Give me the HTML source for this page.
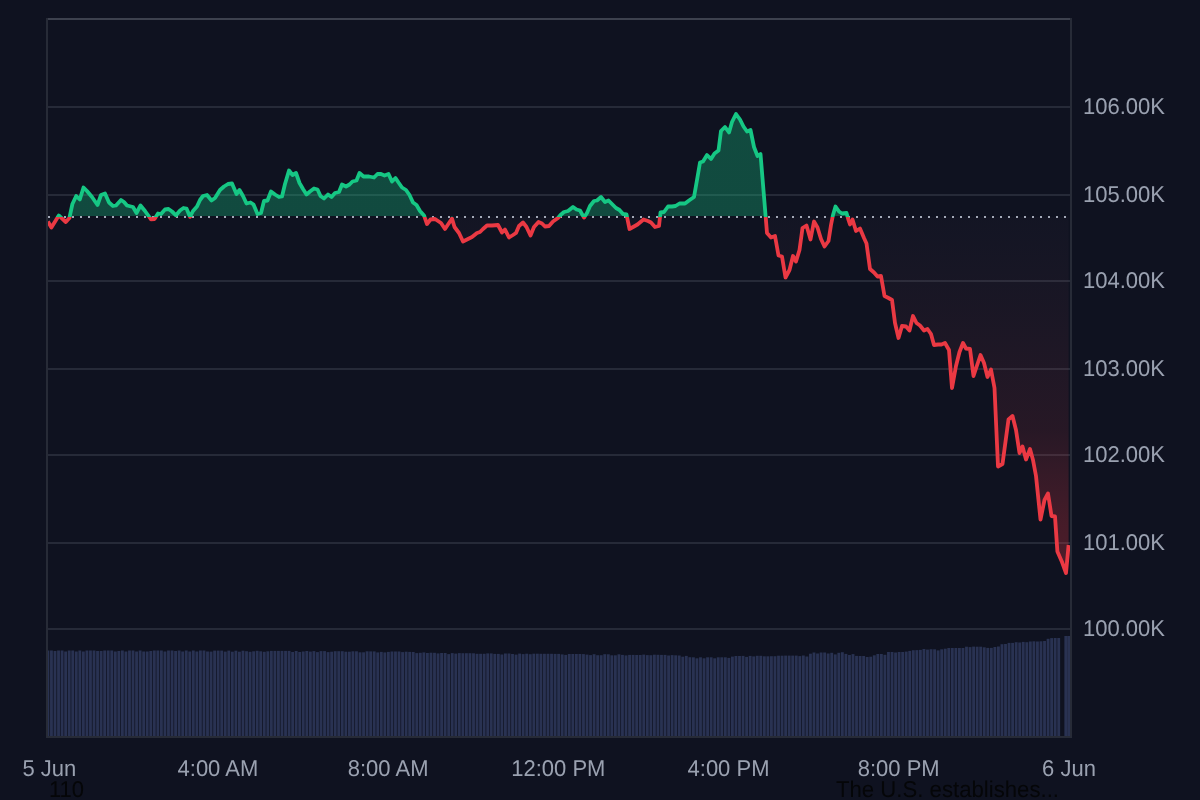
<!DOCTYPE html>
<html><head><meta charset="utf-8"><title>BTC chart</title>
<style>
html,body{margin:0;padding:0;background:#0f1220;width:1200px;height:800px;overflow:hidden}
svg{display:block;position:absolute;left:0;top:0;font-family:"Liberation Sans",Arial,sans-serif}
.ov{will-change:transform;text-rendering:geometricPrecision}
</style></head><body>
<svg width="1200" height="800" viewBox="0 0 1200 800">
<defs>
<clipPath id="pane"><rect x="48" y="20" width="1022" height="716"/></clipPath>
<clipPath id="above"><rect x="48" y="20" width="1022" height="196.0"/></clipPath>
<clipPath id="below"><rect x="48" y="217.0" width="1022" height="519.0"/></clipPath>
<clipPath id="aboveL"><rect x="40" y="0" width="1040" height="217.0"/></clipPath>
<clipPath id="belowL"><rect x="40" y="217.0" width="1040" height="600"/></clipPath>
<linearGradient id="gfill" x1="0" y1="20" x2="0" y2="216.0" gradientUnits="userSpaceOnUse">
<stop offset="0" stop-color="#16c784" stop-opacity="0.32"/><stop offset="1" stop-color="#16c784" stop-opacity="0.31"/></linearGradient>
<linearGradient id="rfill" x1="0" y1="216.0" x2="0" y2="736" gradientUnits="userSpaceOnUse">
<stop offset="0" stop-color="rgb(160,120,150)" stop-opacity="0.03"/>
<stop offset="0.181" stop-color="rgb(200,90,110)" stop-opacity="0.06"/>
<stop offset="0.412" stop-color="rgb(234,70,80)" stop-opacity="0.11"/>
<stop offset="0.594" stop-color="rgb(234,57,67)" stop-opacity="0.25"/>
<stop offset="1" stop-color="rgb(234,57,67)" stop-opacity="0.40"/></linearGradient>
</defs>
<rect width="1200" height="800" fill="#0f1220"/>
<g fill="#262a38"><rect x="48" y="106" width="1022" height="2"/><rect x="48" y="194" width="1022" height="2"/><rect x="48" y="280" width="1022" height="2"/><rect x="48" y="368" width="1022" height="2"/><rect x="48" y="454" width="1022" height="2"/><rect x="48" y="542" width="1022" height="2"/><rect x="48" y="628" width="1022" height="2"/></g>
<g fill="#293252" clip-path="url(#pane)">
<rect x="48.00" y="650.5" width="1.32" height="85.5"/>
<rect x="50.02" y="650.5" width="2.85" height="85.5"/>
<rect x="53.57" y="651.0" width="2.85" height="85.0"/>
<rect x="57.12" y="650.5" width="2.85" height="85.5"/>
<rect x="60.66" y="650.5" width="2.85" height="85.5"/>
<rect x="64.21" y="651.5" width="2.85" height="84.5"/>
<rect x="67.76" y="650.5" width="2.85" height="85.5"/>
<rect x="71.30" y="650.5" width="2.85" height="85.5"/>
<rect x="74.85" y="651.5" width="2.85" height="84.5"/>
<rect x="78.40" y="650.5" width="2.85" height="85.5"/>
<rect x="81.94" y="651.5" width="2.85" height="84.5"/>
<rect x="85.49" y="650.5" width="2.85" height="85.5"/>
<rect x="89.04" y="650.5" width="2.85" height="85.5"/>
<rect x="92.58" y="650.5" width="2.85" height="85.5"/>
<rect x="96.13" y="651.0" width="2.85" height="85.0"/>
<rect x="99.68" y="651.0" width="2.85" height="85.0"/>
<rect x="103.22" y="650.5" width="2.85" height="85.5"/>
<rect x="106.77" y="650.5" width="2.85" height="85.5"/>
<rect x="110.32" y="650.5" width="2.85" height="85.5"/>
<rect x="113.86" y="651.5" width="2.85" height="84.5"/>
<rect x="117.41" y="651.0" width="2.85" height="85.0"/>
<rect x="120.96" y="650.5" width="2.85" height="85.5"/>
<rect x="124.50" y="651.5" width="2.85" height="84.5"/>
<rect x="128.05" y="650.5" width="2.85" height="85.5"/>
<rect x="131.60" y="650.5" width="2.85" height="85.5"/>
<rect x="135.14" y="651.5" width="2.85" height="84.5"/>
<rect x="138.69" y="650.5" width="2.85" height="85.5"/>
<rect x="142.24" y="651.5" width="2.85" height="84.5"/>
<rect x="145.78" y="651.5" width="2.85" height="84.5"/>
<rect x="149.33" y="651.0" width="2.85" height="85.0"/>
<rect x="152.88" y="650.5" width="2.85" height="85.5"/>
<rect x="156.42" y="650.5" width="2.85" height="85.5"/>
<rect x="159.97" y="650.5" width="2.85" height="85.5"/>
<rect x="163.52" y="651.5" width="2.85" height="84.5"/>
<rect x="167.06" y="650.5" width="2.85" height="85.5"/>
<rect x="170.61" y="650.5" width="2.85" height="85.5"/>
<rect x="174.16" y="651.0" width="2.85" height="85.0"/>
<rect x="177.70" y="650.5" width="2.85" height="85.5"/>
<rect x="181.25" y="651.5" width="2.85" height="84.5"/>
<rect x="184.80" y="650.5" width="2.85" height="85.5"/>
<rect x="188.34" y="651.5" width="2.85" height="84.5"/>
<rect x="191.89" y="650.5" width="2.85" height="85.5"/>
<rect x="195.44" y="651.5" width="2.85" height="84.5"/>
<rect x="198.98" y="650.5" width="2.85" height="85.5"/>
<rect x="202.53" y="650.5" width="2.85" height="85.5"/>
<rect x="206.08" y="651.5" width="2.85" height="84.5"/>
<rect x="209.62" y="651.6" width="2.85" height="84.4"/>
<rect x="213.17" y="650.6" width="2.85" height="85.4"/>
<rect x="216.72" y="650.6" width="2.85" height="85.4"/>
<rect x="220.26" y="650.6" width="2.85" height="85.4"/>
<rect x="223.81" y="651.6" width="2.85" height="84.4"/>
<rect x="227.36" y="650.6" width="2.85" height="85.4"/>
<rect x="230.91" y="651.7" width="2.85" height="84.3"/>
<rect x="234.45" y="650.7" width="2.85" height="85.3"/>
<rect x="238.00" y="651.7" width="2.85" height="84.3"/>
<rect x="241.55" y="650.7" width="2.85" height="85.3"/>
<rect x="245.09" y="651.2" width="2.85" height="84.8"/>
<rect x="248.64" y="651.8" width="2.85" height="84.2"/>
<rect x="252.19" y="651.3" width="2.85" height="84.7"/>
<rect x="255.73" y="650.8" width="2.85" height="85.2"/>
<rect x="259.28" y="651.3" width="2.85" height="84.7"/>
<rect x="262.83" y="651.8" width="2.85" height="84.2"/>
<rect x="266.37" y="651.3" width="2.85" height="84.7"/>
<rect x="269.92" y="650.9" width="2.85" height="85.1"/>
<rect x="273.47" y="650.9" width="2.85" height="85.1"/>
<rect x="277.01" y="650.9" width="2.85" height="85.1"/>
<rect x="280.56" y="650.9" width="2.85" height="85.1"/>
<rect x="284.11" y="650.9" width="2.85" height="85.1"/>
<rect x="287.65" y="650.9" width="2.85" height="85.1"/>
<rect x="291.20" y="652.0" width="2.85" height="84.0"/>
<rect x="294.75" y="651.0" width="2.85" height="85.0"/>
<rect x="298.29" y="652.0" width="2.85" height="84.0"/>
<rect x="301.84" y="651.5" width="2.85" height="84.5"/>
<rect x="305.39" y="651.0" width="2.85" height="85.0"/>
<rect x="308.93" y="651.6" width="2.85" height="84.4"/>
<rect x="312.48" y="651.1" width="2.85" height="84.9"/>
<rect x="316.03" y="652.1" width="2.85" height="83.9"/>
<rect x="319.57" y="651.1" width="2.85" height="84.9"/>
<rect x="323.12" y="651.1" width="2.85" height="84.9"/>
<rect x="326.67" y="652.1" width="2.85" height="83.9"/>
<rect x="330.21" y="651.7" width="2.85" height="84.3"/>
<rect x="333.76" y="651.2" width="2.85" height="84.8"/>
<rect x="337.31" y="651.2" width="2.85" height="84.8"/>
<rect x="340.85" y="651.2" width="2.85" height="84.8"/>
<rect x="344.40" y="651.7" width="2.85" height="84.3"/>
<rect x="347.95" y="651.7" width="2.85" height="84.3"/>
<rect x="351.49" y="651.3" width="2.85" height="84.7"/>
<rect x="355.04" y="651.3" width="2.85" height="84.7"/>
<rect x="358.59" y="652.3" width="2.85" height="83.7"/>
<rect x="362.13" y="652.3" width="2.85" height="83.7"/>
<rect x="365.68" y="651.3" width="2.85" height="84.7"/>
<rect x="369.23" y="651.4" width="2.85" height="84.6"/>
<rect x="372.77" y="651.4" width="2.85" height="84.6"/>
<rect x="376.32" y="652.4" width="2.85" height="83.6"/>
<rect x="379.87" y="651.9" width="2.85" height="84.1"/>
<rect x="383.41" y="652.4" width="2.85" height="83.6"/>
<rect x="386.96" y="651.9" width="2.85" height="84.1"/>
<rect x="390.51" y="651.5" width="2.85" height="84.5"/>
<rect x="394.05" y="651.5" width="2.85" height="84.5"/>
<rect x="397.60" y="651.5" width="2.85" height="84.5"/>
<rect x="401.15" y="652.1" width="2.85" height="83.9"/>
<rect x="404.69" y="651.7" width="2.85" height="84.3"/>
<rect x="408.24" y="651.9" width="2.85" height="84.1"/>
<rect x="411.79" y="652.0" width="2.85" height="84.0"/>
<rect x="415.33" y="653.1" width="2.85" height="82.9"/>
<rect x="418.88" y="652.8" width="2.85" height="83.2"/>
<rect x="422.43" y="652.4" width="2.85" height="83.6"/>
<rect x="425.97" y="653.0" width="2.85" height="83.0"/>
<rect x="429.52" y="652.7" width="2.85" height="83.3"/>
<rect x="433.07" y="652.8" width="2.85" height="83.2"/>
<rect x="436.61" y="653.4" width="2.85" height="82.6"/>
<rect x="440.16" y="653.0" width="2.85" height="83.0"/>
<rect x="443.71" y="653.0" width="2.85" height="83.0"/>
<rect x="447.25" y="654.1" width="2.85" height="81.9"/>
<rect x="450.80" y="653.1" width="2.85" height="82.9"/>
<rect x="454.35" y="653.6" width="2.85" height="82.4"/>
<rect x="457.89" y="653.1" width="2.85" height="82.9"/>
<rect x="461.44" y="653.2" width="2.85" height="82.8"/>
<rect x="464.99" y="653.2" width="2.85" height="82.8"/>
<rect x="468.53" y="653.2" width="2.85" height="82.8"/>
<rect x="472.08" y="653.3" width="2.85" height="82.7"/>
<rect x="475.63" y="653.8" width="2.85" height="82.2"/>
<rect x="479.17" y="653.8" width="2.85" height="82.2"/>
<rect x="482.72" y="653.8" width="2.85" height="82.2"/>
<rect x="486.27" y="653.4" width="2.85" height="82.6"/>
<rect x="489.81" y="653.4" width="2.85" height="82.6"/>
<rect x="493.36" y="653.9" width="2.85" height="82.1"/>
<rect x="496.91" y="653.9" width="2.85" height="82.1"/>
<rect x="500.45" y="654.5" width="2.85" height="81.5"/>
<rect x="504.00" y="653.5" width="2.85" height="82.5"/>
<rect x="507.55" y="653.5" width="2.85" height="82.5"/>
<rect x="511.09" y="654.0" width="2.85" height="82.0"/>
<rect x="514.64" y="654.6" width="2.85" height="81.4"/>
<rect x="518.19" y="653.6" width="2.85" height="82.4"/>
<rect x="521.73" y="654.1" width="2.85" height="81.9"/>
<rect x="525.28" y="653.7" width="2.85" height="82.3"/>
<rect x="528.83" y="654.2" width="2.85" height="81.8"/>
<rect x="532.37" y="653.7" width="2.85" height="82.3"/>
<rect x="535.92" y="653.7" width="2.85" height="82.3"/>
<rect x="539.47" y="653.8" width="2.85" height="82.2"/>
<rect x="543.01" y="653.8" width="2.85" height="82.2"/>
<rect x="546.56" y="653.8" width="2.85" height="82.2"/>
<rect x="550.11" y="653.8" width="2.85" height="82.2"/>
<rect x="553.65" y="653.9" width="2.85" height="82.1"/>
<rect x="557.20" y="653.9" width="2.85" height="82.1"/>
<rect x="560.75" y="654.4" width="2.85" height="81.6"/>
<rect x="564.29" y="654.9" width="2.85" height="81.1"/>
<rect x="567.84" y="654.0" width="2.85" height="82.0"/>
<rect x="571.39" y="654.0" width="2.85" height="82.0"/>
<rect x="574.93" y="654.0" width="2.85" height="82.0"/>
<rect x="578.48" y="654.0" width="2.85" height="82.0"/>
<rect x="582.03" y="654.1" width="2.85" height="81.9"/>
<rect x="585.58" y="654.6" width="2.85" height="81.4"/>
<rect x="589.12" y="655.1" width="2.85" height="80.9"/>
<rect x="592.67" y="654.2" width="2.85" height="81.8"/>
<rect x="596.22" y="655.2" width="2.85" height="80.8"/>
<rect x="599.76" y="655.2" width="2.85" height="80.8"/>
<rect x="603.31" y="654.2" width="2.85" height="81.8"/>
<rect x="606.86" y="654.3" width="2.85" height="81.7"/>
<rect x="610.40" y="655.3" width="2.85" height="80.7"/>
<rect x="613.95" y="655.3" width="2.85" height="80.7"/>
<rect x="617.50" y="654.3" width="2.85" height="81.7"/>
<rect x="621.04" y="654.9" width="2.85" height="81.1"/>
<rect x="624.59" y="655.4" width="2.85" height="80.6"/>
<rect x="628.14" y="654.9" width="2.85" height="81.1"/>
<rect x="631.68" y="654.9" width="2.85" height="81.1"/>
<rect x="635.23" y="655.0" width="2.85" height="81.0"/>
<rect x="638.78" y="655.0" width="2.85" height="81.0"/>
<rect x="642.32" y="654.6" width="2.85" height="81.4"/>
<rect x="645.87" y="655.1" width="2.85" height="80.9"/>
<rect x="649.42" y="655.2" width="2.85" height="80.8"/>
<rect x="652.96" y="654.7" width="2.85" height="81.3"/>
<rect x="656.51" y="654.8" width="2.85" height="81.2"/>
<rect x="660.06" y="654.9" width="2.85" height="81.1"/>
<rect x="663.60" y="654.9" width="2.85" height="81.1"/>
<rect x="667.15" y="655.5" width="2.85" height="80.5"/>
<rect x="670.70" y="655.1" width="2.85" height="80.9"/>
<rect x="674.24" y="655.3" width="2.85" height="80.7"/>
<rect x="677.79" y="655.5" width="2.85" height="80.5"/>
<rect x="681.34" y="656.7" width="2.85" height="79.3"/>
<rect x="684.88" y="655.9" width="2.85" height="80.1"/>
<rect x="688.43" y="657.2" width="2.85" height="78.8"/>
<rect x="691.98" y="657.3" width="2.85" height="78.7"/>
<rect x="695.52" y="658.3" width="2.85" height="77.7"/>
<rect x="699.07" y="657.3" width="2.85" height="78.7"/>
<rect x="702.62" y="658.3" width="2.85" height="77.7"/>
<rect x="706.16" y="657.3" width="2.85" height="78.7"/>
<rect x="709.71" y="657.3" width="2.85" height="78.7"/>
<rect x="713.26" y="658.3" width="2.85" height="77.7"/>
<rect x="716.80" y="657.3" width="2.85" height="78.7"/>
<rect x="720.35" y="657.3" width="2.85" height="78.7"/>
<rect x="723.90" y="657.3" width="2.85" height="78.7"/>
<rect x="727.44" y="657.9" width="2.85" height="78.1"/>
<rect x="730.99" y="656.6" width="2.85" height="79.4"/>
<rect x="734.54" y="656.0" width="2.85" height="80.0"/>
<rect x="738.08" y="656.0" width="2.85" height="80.0"/>
<rect x="741.63" y="655.9" width="2.85" height="80.1"/>
<rect x="745.18" y="656.9" width="2.85" height="79.1"/>
<rect x="748.72" y="655.9" width="2.85" height="80.1"/>
<rect x="752.27" y="656.4" width="2.85" height="79.6"/>
<rect x="755.82" y="655.8" width="2.85" height="80.2"/>
<rect x="759.36" y="655.8" width="2.85" height="80.2"/>
<rect x="762.91" y="656.3" width="2.85" height="79.7"/>
<rect x="766.46" y="656.3" width="2.85" height="79.7"/>
<rect x="770.00" y="656.2" width="2.85" height="79.8"/>
<rect x="773.55" y="656.2" width="2.85" height="79.8"/>
<rect x="777.10" y="655.7" width="2.85" height="80.3"/>
<rect x="780.64" y="655.7" width="2.85" height="80.3"/>
<rect x="784.19" y="655.6" width="2.85" height="80.4"/>
<rect x="787.74" y="655.6" width="2.85" height="80.4"/>
<rect x="791.28" y="655.6" width="2.85" height="80.4"/>
<rect x="794.83" y="655.6" width="2.85" height="80.4"/>
<rect x="798.38" y="656.1" width="2.85" height="79.9"/>
<rect x="801.92" y="655.5" width="2.85" height="80.5"/>
<rect x="805.47" y="656.5" width="2.85" height="79.5"/>
<rect x="809.02" y="653.7" width="2.85" height="82.3"/>
<rect x="812.56" y="652.5" width="2.85" height="83.5"/>
<rect x="816.11" y="653.5" width="2.85" height="82.5"/>
<rect x="819.66" y="652.5" width="2.85" height="83.5"/>
<rect x="823.20" y="652.5" width="2.85" height="83.5"/>
<rect x="826.75" y="653.5" width="2.85" height="82.5"/>
<rect x="830.30" y="652.8" width="2.85" height="83.2"/>
<rect x="833.84" y="654.4" width="2.85" height="81.6"/>
<rect x="837.39" y="652.8" width="2.85" height="83.2"/>
<rect x="840.94" y="652.2" width="2.85" height="83.8"/>
<rect x="844.48" y="653.9" width="2.85" height="82.1"/>
<rect x="848.03" y="655.0" width="2.85" height="81.0"/>
<rect x="851.58" y="654.1" width="2.85" height="81.9"/>
<rect x="855.12" y="655.9" width="2.85" height="80.1"/>
<rect x="858.67" y="656.0" width="2.85" height="80.0"/>
<rect x="862.22" y="656.0" width="2.85" height="80.0"/>
<rect x="865.76" y="657.0" width="2.85" height="79.0"/>
<rect x="869.31" y="656.7" width="2.85" height="79.3"/>
<rect x="872.86" y="655.3" width="2.85" height="80.7"/>
<rect x="876.40" y="654.0" width="2.85" height="82.0"/>
<rect x="879.95" y="654.0" width="2.85" height="82.0"/>
<rect x="883.50" y="654.8" width="2.85" height="81.2"/>
<rect x="887.04" y="652.0" width="2.85" height="84.0"/>
<rect x="890.59" y="652.0" width="2.85" height="84.0"/>
<rect x="894.14" y="652.5" width="2.85" height="83.5"/>
<rect x="897.68" y="652.0" width="2.85" height="84.0"/>
<rect x="901.23" y="652.0" width="2.85" height="84.0"/>
<rect x="904.78" y="651.6" width="2.85" height="84.4"/>
<rect x="908.32" y="650.9" width="2.85" height="85.1"/>
<rect x="911.87" y="650.2" width="2.85" height="85.8"/>
<rect x="915.42" y="650.1" width="2.85" height="85.9"/>
<rect x="918.96" y="649.9" width="2.85" height="86.1"/>
<rect x="922.51" y="649.0" width="2.85" height="87.0"/>
<rect x="926.06" y="649.6" width="2.85" height="86.4"/>
<rect x="929.60" y="649.2" width="2.85" height="86.8"/>
<rect x="933.15" y="649.3" width="2.85" height="86.7"/>
<rect x="936.70" y="650.4" width="2.85" height="85.6"/>
<rect x="940.25" y="649.3" width="2.85" height="86.7"/>
<rect x="943.79" y="648.7" width="2.85" height="87.3"/>
<rect x="947.34" y="648.0" width="2.85" height="88.0"/>
<rect x="950.89" y="648.0" width="2.85" height="88.0"/>
<rect x="954.43" y="648.0" width="2.85" height="88.0"/>
<rect x="957.98" y="648.0" width="2.85" height="88.0"/>
<rect x="961.53" y="648.0" width="2.85" height="88.0"/>
<rect x="965.07" y="646.7" width="2.85" height="89.3"/>
<rect x="968.62" y="647.1" width="2.85" height="88.9"/>
<rect x="972.17" y="646.6" width="2.85" height="89.4"/>
<rect x="975.71" y="646.7" width="2.85" height="89.3"/>
<rect x="979.26" y="646.7" width="2.85" height="89.3"/>
<rect x="982.81" y="647.3" width="2.85" height="88.7"/>
<rect x="986.35" y="647.9" width="2.85" height="88.1"/>
<rect x="989.90" y="647.9" width="2.85" height="88.1"/>
<rect x="993.45" y="647.0" width="2.85" height="89.0"/>
<rect x="996.99" y="646.5" width="2.85" height="89.5"/>
<rect x="1000.54" y="644.2" width="2.85" height="91.8"/>
<rect x="1004.09" y="644.0" width="2.85" height="92.0"/>
<rect x="1007.63" y="642.9" width="2.85" height="93.1"/>
<rect x="1011.18" y="642.9" width="2.85" height="93.1"/>
<rect x="1014.73" y="642.2" width="2.85" height="93.8"/>
<rect x="1018.27" y="642.5" width="2.85" height="93.5"/>
<rect x="1021.82" y="641.9" width="2.85" height="94.1"/>
<rect x="1025.37" y="642.2" width="2.85" height="93.8"/>
<rect x="1028.91" y="641.5" width="2.85" height="94.5"/>
<rect x="1032.46" y="641.3" width="2.85" height="94.7"/>
<rect x="1036.01" y="641.5" width="2.85" height="94.5"/>
<rect x="1039.55" y="641.3" width="2.85" height="94.7"/>
<rect x="1043.10" y="641.0" width="2.85" height="95.0"/>
<rect x="1046.65" y="638.8" width="2.85" height="97.2"/>
<rect x="1050.19" y="638.1" width="2.85" height="97.9"/>
<rect x="1053.74" y="638.0" width="2.85" height="98.0"/>
<rect x="1057.29" y="638.0" width="2.85" height="98.0"/>
<rect x="1064.38" y="636.0" width="3.35" height="100.0"/>
<rect x="1067.63" y="636.0" width="2.37" height="100.0"/>
</g>
<g clip-path="url(#pane)">
<path d="M47.9,221.5 L51.4,227.5 L58.8,215.5 L65.8,222.0 L69.4,218.0 L72.4,204.0 L76.2,196.0 L79.8,199.5 L83.5,187.5 L87.0,191.0 L92.0,197.0 L97.5,205.0 L101.0,195.0 L105.0,193.5 L109.0,202.5 L113.0,206.0 L116.0,205.5 L121.0,200.0 L124.0,202.0 L127.0,205.5 L133.0,207.0 L136.5,213.0 L140.5,205.5 L145.0,211.0 L149.0,216.5 L151.0,219.3 L154.5,219.0 L158.0,213.5 L161.0,214.0 L165.0,209.5 L168.5,209.0 L172.0,211.5 L176.0,215.3 L180.0,210.5 L183.5,208.0 L186.5,208.5 L190.0,216.8 L193.0,211.0 L197.0,206.5 L200.0,200.0 L203.0,196.0 L207.0,195.0 L211.5,200.5 L215.0,198.0 L220.0,190.0 L224.0,186.5 L228.0,184.0 L232.0,183.5 L236.5,194.0 L239.5,190.0 L243.0,196.0 L246.5,203.5 L250.5,202.5 L253.5,204.5 L257.5,214.0 L261.0,213.0 L264.0,201.0 L267.5,200.5 L271.0,191.5 L275.0,194.5 L279.0,197.0 L282.0,196.5 L285.0,184.0 L289.0,170.5 L292.5,175.0 L296.0,173.0 L299.5,183.0 L303.0,189.0 L306.5,194.5 L310.0,191.5 L314.0,188.5 L317.5,189.5 L320.5,196.0 L324.0,198.5 L328.0,194.5 L331.5,197.0 L335.0,193.0 L339.0,192.0 L342.0,184.5 L346.0,186.5 L349.5,184.5 L352.5,181.5 L356.5,180.5 L359.5,173.0 L363.5,176.5 L369.0,176.5 L374.0,177.5 L377.5,174.0 L381.0,174.0 L384.5,175.5 L388.5,174.0 L392.0,181.5 L395.5,178.0 L398.5,182.5 L402.0,187.5 L406.0,190.0 L409.5,195.0 L413.0,202.5 L416.5,205.0 L420.0,211.0 L424.0,215.5 L427.0,224.0 L430.5,219.5 L435.0,219.0 L441.0,223.0 L445.0,229.0 L449.0,223.0 L452.0,218.6 L454.5,227.0 L459.0,233.0 L463.0,241.5 L467.0,239.5 L472.0,237.0 L477.0,233.0 L480.0,232.0 L483.0,229.0 L487.0,225.5 L492.0,225.5 L498.0,225.0 L502.0,232.5 L505.0,229.5 L509.0,237.5 L513.0,235.0 L516.0,233.0 L519.0,226.0 L523.0,222.5 L526.5,227.0 L530.5,235.5 L534.0,227.0 L538.5,222.0 L542.0,223.5 L545.0,226.5 L549.0,226.0 L553.0,221.5 L558.0,218.0 L560.5,215.0 L564.0,212.0 L568.0,211.0 L573.0,207.0 L576.5,209.5 L580.0,210.5 L584.0,217.6 L587.0,213.0 L590.0,206.0 L594.0,201.0 L597.0,200.5 L601.0,197.0 L605.0,202.0 L608.5,200.5 L612.0,204.0 L616.0,208.0 L619.5,210.0 L623.0,214.0 L626.5,214.5 L629.5,229.0 L634.0,226.5 L637.5,224.5 L643.5,219.5 L648.0,221.0 L651.0,222.5 L655.0,227.0 L659.0,226.0 L660.5,212.5 L664.0,212.0 L668.0,206.5 L672.0,206.5 L675.5,206.0 L679.5,203.5 L685.0,203.5 L689.0,200.5 L694.0,197.0 L697.0,180.0 L700.0,162.5 L703.0,161.5 L707.0,155.0 L711.0,159.0 L714.5,153.5 L718.5,150.5 L721.0,131.0 L725.0,127.0 L729.0,132.5 L732.0,122.0 L736.0,114.0 L740.0,119.5 L743.5,126.5 L747.0,131.5 L750.5,130.0 L754.0,147.0 L757.5,156.0 L760.5,154.0 L767.0,233.0 L771.0,237.5 L775.0,236.0 L778.5,255.5 L782.0,256.5 L785.5,277.5 L789.5,270.0 L793.0,256.0 L796.0,261.5 L799.5,250.0 L802.5,228.0 L806.5,225.5 L810.5,239.5 L814.0,221.5 L817.5,227.5 L821.0,239.0 L824.5,246.5 L828.5,241.0 L831.0,225.0 L833.0,215.0 L835.5,206.5 L839.0,211.5 L842.0,213.5 L846.5,213.0 L848.5,220.0 L850.0,224.5 L852.5,219.5 L856.0,231.0 L860.0,228.5 L864.0,238.0 L866.5,243.5 L870.0,269.0 L874.0,272.5 L877.5,276.5 L881.0,276.0 L884.5,296.0 L888.5,298.0 L892.0,300.0 L895.0,323.0 L898.5,338.0 L902.0,326.0 L906.0,326.5 L909.5,330.5 L913.0,316.0 L916.5,323.0 L920.0,325.5 L924.0,330.5 L927.5,329.0 L931.0,334.0 L934.0,345.0 L938.0,344.5 L941.5,344.5 L945.0,343.0 L949.0,350.0 L952.0,388.0 L956.0,366.0 L959.5,352.0 L963.0,343.0 L966.0,348.5 L970.0,349.0 L973.5,376.0 L977.0,365.5 L980.5,355.0 L984.0,363.0 L987.5,377.0 L991.0,369.5 L994.5,388.0 L998.0,466.5 L1002.5,464.0 L1008.5,419.5 L1012.5,416.0 L1016.0,430.0 L1019.5,453.0 L1022.5,446.5 L1026.0,459.5 L1030.0,449.0 L1033.0,460.0 L1036.0,476.0 L1040.5,519.5 L1044.5,500.0 L1048.0,493.5 L1051.5,516.0 L1055.0,516.5 L1057.4,551.5 L1062.0,562.0 L1066.0,573.0 L1068.6,545.0 L1068.6,216.0 L47.9,216.0 Z" fill="url(#gfill)" clip-path="url(#above)"/>
<path d="M47.9,221.5 L51.4,227.5 L58.8,215.5 L65.8,222.0 L69.4,218.0 L72.4,204.0 L76.2,196.0 L79.8,199.5 L83.5,187.5 L87.0,191.0 L92.0,197.0 L97.5,205.0 L101.0,195.0 L105.0,193.5 L109.0,202.5 L113.0,206.0 L116.0,205.5 L121.0,200.0 L124.0,202.0 L127.0,205.5 L133.0,207.0 L136.5,213.0 L140.5,205.5 L145.0,211.0 L149.0,216.5 L151.0,219.3 L154.5,219.0 L158.0,213.5 L161.0,214.0 L165.0,209.5 L168.5,209.0 L172.0,211.5 L176.0,215.3 L180.0,210.5 L183.5,208.0 L186.5,208.5 L190.0,216.8 L193.0,211.0 L197.0,206.5 L200.0,200.0 L203.0,196.0 L207.0,195.0 L211.5,200.5 L215.0,198.0 L220.0,190.0 L224.0,186.5 L228.0,184.0 L232.0,183.5 L236.5,194.0 L239.5,190.0 L243.0,196.0 L246.5,203.5 L250.5,202.5 L253.5,204.5 L257.5,214.0 L261.0,213.0 L264.0,201.0 L267.5,200.5 L271.0,191.5 L275.0,194.5 L279.0,197.0 L282.0,196.5 L285.0,184.0 L289.0,170.5 L292.5,175.0 L296.0,173.0 L299.5,183.0 L303.0,189.0 L306.5,194.5 L310.0,191.5 L314.0,188.5 L317.5,189.5 L320.5,196.0 L324.0,198.5 L328.0,194.5 L331.5,197.0 L335.0,193.0 L339.0,192.0 L342.0,184.5 L346.0,186.5 L349.5,184.5 L352.5,181.5 L356.5,180.5 L359.5,173.0 L363.5,176.5 L369.0,176.5 L374.0,177.5 L377.5,174.0 L381.0,174.0 L384.5,175.5 L388.5,174.0 L392.0,181.5 L395.5,178.0 L398.5,182.5 L402.0,187.5 L406.0,190.0 L409.5,195.0 L413.0,202.5 L416.5,205.0 L420.0,211.0 L424.0,215.5 L427.0,224.0 L430.5,219.5 L435.0,219.0 L441.0,223.0 L445.0,229.0 L449.0,223.0 L452.0,218.6 L454.5,227.0 L459.0,233.0 L463.0,241.5 L467.0,239.5 L472.0,237.0 L477.0,233.0 L480.0,232.0 L483.0,229.0 L487.0,225.5 L492.0,225.5 L498.0,225.0 L502.0,232.5 L505.0,229.5 L509.0,237.5 L513.0,235.0 L516.0,233.0 L519.0,226.0 L523.0,222.5 L526.5,227.0 L530.5,235.5 L534.0,227.0 L538.5,222.0 L542.0,223.5 L545.0,226.5 L549.0,226.0 L553.0,221.5 L558.0,218.0 L560.5,215.0 L564.0,212.0 L568.0,211.0 L573.0,207.0 L576.5,209.5 L580.0,210.5 L584.0,217.6 L587.0,213.0 L590.0,206.0 L594.0,201.0 L597.0,200.5 L601.0,197.0 L605.0,202.0 L608.5,200.5 L612.0,204.0 L616.0,208.0 L619.5,210.0 L623.0,214.0 L626.5,214.5 L629.5,229.0 L634.0,226.5 L637.5,224.5 L643.5,219.5 L648.0,221.0 L651.0,222.5 L655.0,227.0 L659.0,226.0 L660.5,212.5 L664.0,212.0 L668.0,206.5 L672.0,206.5 L675.5,206.0 L679.5,203.5 L685.0,203.5 L689.0,200.5 L694.0,197.0 L697.0,180.0 L700.0,162.5 L703.0,161.5 L707.0,155.0 L711.0,159.0 L714.5,153.5 L718.5,150.5 L721.0,131.0 L725.0,127.0 L729.0,132.5 L732.0,122.0 L736.0,114.0 L740.0,119.5 L743.5,126.5 L747.0,131.5 L750.5,130.0 L754.0,147.0 L757.5,156.0 L760.5,154.0 L767.0,233.0 L771.0,237.5 L775.0,236.0 L778.5,255.5 L782.0,256.5 L785.5,277.5 L789.5,270.0 L793.0,256.0 L796.0,261.5 L799.5,250.0 L802.5,228.0 L806.5,225.5 L810.5,239.5 L814.0,221.5 L817.5,227.5 L821.0,239.0 L824.5,246.5 L828.5,241.0 L831.0,225.0 L833.0,215.0 L835.5,206.5 L839.0,211.5 L842.0,213.5 L846.5,213.0 L848.5,220.0 L850.0,224.5 L852.5,219.5 L856.0,231.0 L860.0,228.5 L864.0,238.0 L866.5,243.5 L870.0,269.0 L874.0,272.5 L877.5,276.5 L881.0,276.0 L884.5,296.0 L888.5,298.0 L892.0,300.0 L895.0,323.0 L898.5,338.0 L902.0,326.0 L906.0,326.5 L909.5,330.5 L913.0,316.0 L916.5,323.0 L920.0,325.5 L924.0,330.5 L927.5,329.0 L931.0,334.0 L934.0,345.0 L938.0,344.5 L941.5,344.5 L945.0,343.0 L949.0,350.0 L952.0,388.0 L956.0,366.0 L959.5,352.0 L963.0,343.0 L966.0,348.5 L970.0,349.0 L973.5,376.0 L977.0,365.5 L980.5,355.0 L984.0,363.0 L987.5,377.0 L991.0,369.5 L994.5,388.0 L998.0,466.5 L1002.5,464.0 L1008.5,419.5 L1012.5,416.0 L1016.0,430.0 L1019.5,453.0 L1022.5,446.5 L1026.0,459.5 L1030.0,449.0 L1033.0,460.0 L1036.0,476.0 L1040.5,519.5 L1044.5,500.0 L1048.0,493.5 L1051.5,516.0 L1055.0,516.5 L1057.4,551.5 L1062.0,562.0 L1066.0,573.0 L1068.6,545.0 L1068.6,216.0 L47.9,216.0 Z" fill="url(#rfill)" clip-path="url(#below)"/>
</g>
<g fill="#a4aab8"><rect x="48" y="216" width="2" height="2"/><rect x="56" y="216" width="2" height="2"/><rect x="64" y="216" width="2" height="2"/><rect x="72" y="216" width="2" height="2"/><rect x="80" y="216" width="2" height="2"/><rect x="88" y="216" width="2" height="2"/><rect x="96" y="216" width="2" height="2"/><rect x="104" y="216" width="2" height="2"/><rect x="112" y="216" width="2" height="2"/><rect x="120" y="216" width="2" height="2"/><rect x="128" y="216" width="2" height="2"/><rect x="136" y="216" width="2" height="2"/><rect x="144" y="216" width="2" height="2"/><rect x="152" y="216" width="2" height="2"/><rect x="160" y="216" width="2" height="2"/><rect x="168" y="216" width="2" height="2"/><rect x="176" y="216" width="2" height="2"/><rect x="184" y="216" width="2" height="2"/><rect x="192" y="216" width="2" height="2"/><rect x="200" y="216" width="2" height="2"/><rect x="208" y="216" width="2" height="2"/><rect x="216" y="216" width="2" height="2"/><rect x="224" y="216" width="2" height="2"/><rect x="232" y="216" width="2" height="2"/><rect x="240" y="216" width="2" height="2"/><rect x="248" y="216" width="2" height="2"/><rect x="256" y="216" width="2" height="2"/><rect x="264" y="216" width="2" height="2"/><rect x="272" y="216" width="2" height="2"/><rect x="280" y="216" width="2" height="2"/><rect x="288" y="216" width="2" height="2"/><rect x="296" y="216" width="2" height="2"/><rect x="304" y="216" width="2" height="2"/><rect x="312" y="216" width="2" height="2"/><rect x="320" y="216" width="2" height="2"/><rect x="328" y="216" width="2" height="2"/><rect x="336" y="216" width="2" height="2"/><rect x="344" y="216" width="2" height="2"/><rect x="352" y="216" width="2" height="2"/><rect x="360" y="216" width="2" height="2"/><rect x="368" y="216" width="2" height="2"/><rect x="376" y="216" width="2" height="2"/><rect x="384" y="216" width="2" height="2"/><rect x="392" y="216" width="2" height="2"/><rect x="400" y="216" width="2" height="2"/><rect x="408" y="216" width="2" height="2"/><rect x="416" y="216" width="2" height="2"/><rect x="424" y="216" width="2" height="2"/><rect x="432" y="216" width="2" height="2"/><rect x="440" y="216" width="2" height="2"/><rect x="448" y="216" width="2" height="2"/><rect x="456" y="216" width="2" height="2"/><rect x="464" y="216" width="2" height="2"/><rect x="472" y="216" width="2" height="2"/><rect x="480" y="216" width="2" height="2"/><rect x="488" y="216" width="2" height="2"/><rect x="496" y="216" width="2" height="2"/><rect x="504" y="216" width="2" height="2"/><rect x="512" y="216" width="2" height="2"/><rect x="520" y="216" width="2" height="2"/><rect x="528" y="216" width="2" height="2"/><rect x="536" y="216" width="2" height="2"/><rect x="544" y="216" width="2" height="2"/><rect x="552" y="216" width="2" height="2"/><rect x="560" y="216" width="2" height="2"/><rect x="568" y="216" width="2" height="2"/><rect x="576" y="216" width="2" height="2"/><rect x="584" y="216" width="2" height="2"/><rect x="592" y="216" width="2" height="2"/><rect x="600" y="216" width="2" height="2"/><rect x="608" y="216" width="2" height="2"/><rect x="616" y="216" width="2" height="2"/><rect x="624" y="216" width="2" height="2"/><rect x="632" y="216" width="2" height="2"/><rect x="640" y="216" width="2" height="2"/><rect x="648" y="216" width="2" height="2"/><rect x="656" y="216" width="2" height="2"/><rect x="664" y="216" width="2" height="2"/><rect x="672" y="216" width="2" height="2"/><rect x="680" y="216" width="2" height="2"/><rect x="688" y="216" width="2" height="2"/><rect x="696" y="216" width="2" height="2"/><rect x="704" y="216" width="2" height="2"/><rect x="712" y="216" width="2" height="2"/><rect x="720" y="216" width="2" height="2"/><rect x="728" y="216" width="2" height="2"/><rect x="736" y="216" width="2" height="2"/><rect x="744" y="216" width="2" height="2"/><rect x="752" y="216" width="2" height="2"/><rect x="760" y="216" width="2" height="2"/><rect x="768" y="216" width="2" height="2"/><rect x="776" y="216" width="2" height="2"/><rect x="784" y="216" width="2" height="2"/><rect x="792" y="216" width="2" height="2"/><rect x="800" y="216" width="2" height="2"/><rect x="808" y="216" width="2" height="2"/><rect x="816" y="216" width="2" height="2"/><rect x="824" y="216" width="2" height="2"/><rect x="832" y="216" width="2" height="2"/><rect x="840" y="216" width="2" height="2"/><rect x="848" y="216" width="2" height="2"/><rect x="856" y="216" width="2" height="2"/><rect x="864" y="216" width="2" height="2"/><rect x="872" y="216" width="2" height="2"/><rect x="880" y="216" width="2" height="2"/><rect x="888" y="216" width="2" height="2"/><rect x="896" y="216" width="2" height="2"/><rect x="904" y="216" width="2" height="2"/><rect x="912" y="216" width="2" height="2"/><rect x="920" y="216" width="2" height="2"/><rect x="928" y="216" width="2" height="2"/><rect x="936" y="216" width="2" height="2"/><rect x="944" y="216" width="2" height="2"/><rect x="952" y="216" width="2" height="2"/><rect x="960" y="216" width="2" height="2"/><rect x="968" y="216" width="2" height="2"/><rect x="976" y="216" width="2" height="2"/><rect x="984" y="216" width="2" height="2"/><rect x="992" y="216" width="2" height="2"/><rect x="1000" y="216" width="2" height="2"/><rect x="1008" y="216" width="2" height="2"/><rect x="1016" y="216" width="2" height="2"/><rect x="1024" y="216" width="2" height="2"/><rect x="1032" y="216" width="2" height="2"/><rect x="1040" y="216" width="2" height="2"/><rect x="1048" y="216" width="2" height="2"/><rect x="1056" y="216" width="2" height="2"/><rect x="1064" y="216" width="2" height="2"/></g>
<g clip-path="url(#pane)">
<g clip-path="url(#aboveL)"><path d="M47.9,221.5 L51.4,227.5 L58.8,215.5 L65.8,222.0 L69.4,218.0 L72.4,204.0 L76.2,196.0 L79.8,199.5 L83.5,187.5 L87.0,191.0 L92.0,197.0 L97.5,205.0 L101.0,195.0 L105.0,193.5 L109.0,202.5 L113.0,206.0 L116.0,205.5 L121.0,200.0 L124.0,202.0 L127.0,205.5 L133.0,207.0 L136.5,213.0 L140.5,205.5 L145.0,211.0 L149.0,216.5 L151.0,219.3 L154.5,219.0 L158.0,213.5 L161.0,214.0 L165.0,209.5 L168.5,209.0 L172.0,211.5 L176.0,215.3 L180.0,210.5 L183.5,208.0 L186.5,208.5 L190.0,216.8 L193.0,211.0 L197.0,206.5 L200.0,200.0 L203.0,196.0 L207.0,195.0 L211.5,200.5 L215.0,198.0 L220.0,190.0 L224.0,186.5 L228.0,184.0 L232.0,183.5 L236.5,194.0 L239.5,190.0 L243.0,196.0 L246.5,203.5 L250.5,202.5 L253.5,204.5 L257.5,214.0 L261.0,213.0 L264.0,201.0 L267.5,200.5 L271.0,191.5 L275.0,194.5 L279.0,197.0 L282.0,196.5 L285.0,184.0 L289.0,170.5 L292.5,175.0 L296.0,173.0 L299.5,183.0 L303.0,189.0 L306.5,194.5 L310.0,191.5 L314.0,188.5 L317.5,189.5 L320.5,196.0 L324.0,198.5 L328.0,194.5 L331.5,197.0 L335.0,193.0 L339.0,192.0 L342.0,184.5 L346.0,186.5 L349.5,184.5 L352.5,181.5 L356.5,180.5 L359.5,173.0 L363.5,176.5 L369.0,176.5 L374.0,177.5 L377.5,174.0 L381.0,174.0 L384.5,175.5 L388.5,174.0 L392.0,181.5 L395.5,178.0 L398.5,182.5 L402.0,187.5 L406.0,190.0 L409.5,195.0 L413.0,202.5 L416.5,205.0 L420.0,211.0 L424.0,215.5 L427.0,224.0 L430.5,219.5 L435.0,219.0 L441.0,223.0 L445.0,229.0 L449.0,223.0 L452.0,218.6 L454.5,227.0 L459.0,233.0 L463.0,241.5 L467.0,239.5 L472.0,237.0 L477.0,233.0 L480.0,232.0 L483.0,229.0 L487.0,225.5 L492.0,225.5 L498.0,225.0 L502.0,232.5 L505.0,229.5 L509.0,237.5 L513.0,235.0 L516.0,233.0 L519.0,226.0 L523.0,222.5 L526.5,227.0 L530.5,235.5 L534.0,227.0 L538.5,222.0 L542.0,223.5 L545.0,226.5 L549.0,226.0 L553.0,221.5 L558.0,218.0 L560.5,215.0 L564.0,212.0 L568.0,211.0 L573.0,207.0 L576.5,209.5 L580.0,210.5 L584.0,217.6 L587.0,213.0 L590.0,206.0 L594.0,201.0 L597.0,200.5 L601.0,197.0 L605.0,202.0 L608.5,200.5 L612.0,204.0 L616.0,208.0 L619.5,210.0 L623.0,214.0 L626.5,214.5 L629.5,229.0 L634.0,226.5 L637.5,224.5 L643.5,219.5 L648.0,221.0 L651.0,222.5 L655.0,227.0 L659.0,226.0 L660.5,212.5 L664.0,212.0 L668.0,206.5 L672.0,206.5 L675.5,206.0 L679.5,203.5 L685.0,203.5 L689.0,200.5 L694.0,197.0 L697.0,180.0 L700.0,162.5 L703.0,161.5 L707.0,155.0 L711.0,159.0 L714.5,153.5 L718.5,150.5 L721.0,131.0 L725.0,127.0 L729.0,132.5 L732.0,122.0 L736.0,114.0 L740.0,119.5 L743.5,126.5 L747.0,131.5 L750.5,130.0 L754.0,147.0 L757.5,156.0 L760.5,154.0 L767.0,233.0 L771.0,237.5 L775.0,236.0 L778.5,255.5 L782.0,256.5 L785.5,277.5 L789.5,270.0 L793.0,256.0 L796.0,261.5 L799.5,250.0 L802.5,228.0 L806.5,225.5 L810.5,239.5 L814.0,221.5 L817.5,227.5 L821.0,239.0 L824.5,246.5 L828.5,241.0 L831.0,225.0 L833.0,215.0 L835.5,206.5 L839.0,211.5 L842.0,213.5 L846.5,213.0 L848.5,220.0 L850.0,224.5 L852.5,219.5 L856.0,231.0 L860.0,228.5 L864.0,238.0 L866.5,243.5 L870.0,269.0 L874.0,272.5 L877.5,276.5 L881.0,276.0 L884.5,296.0 L888.5,298.0 L892.0,300.0 L895.0,323.0 L898.5,338.0 L902.0,326.0 L906.0,326.5 L909.5,330.5 L913.0,316.0 L916.5,323.0 L920.0,325.5 L924.0,330.5 L927.5,329.0 L931.0,334.0 L934.0,345.0 L938.0,344.5 L941.5,344.5 L945.0,343.0 L949.0,350.0 L952.0,388.0 L956.0,366.0 L959.5,352.0 L963.0,343.0 L966.0,348.5 L970.0,349.0 L973.5,376.0 L977.0,365.5 L980.5,355.0 L984.0,363.0 L987.5,377.0 L991.0,369.5 L994.5,388.0 L998.0,466.5 L1002.5,464.0 L1008.5,419.5 L1012.5,416.0 L1016.0,430.0 L1019.5,453.0 L1022.5,446.5 L1026.0,459.5 L1030.0,449.0 L1033.0,460.0 L1036.0,476.0 L1040.5,519.5 L1044.5,500.0 L1048.0,493.5 L1051.5,516.0 L1055.0,516.5 L1057.4,551.5 L1062.0,562.0 L1066.0,573.0 L1068.6,545.0" fill="none" stroke="#16c784" stroke-width="3.8" stroke-linejoin="round"/></g>
<g clip-path="url(#belowL)"><path d="M47.9,221.5 L51.4,227.5 L58.8,215.5 L65.8,222.0 L69.4,218.0 L72.4,204.0 L76.2,196.0 L79.8,199.5 L83.5,187.5 L87.0,191.0 L92.0,197.0 L97.5,205.0 L101.0,195.0 L105.0,193.5 L109.0,202.5 L113.0,206.0 L116.0,205.5 L121.0,200.0 L124.0,202.0 L127.0,205.5 L133.0,207.0 L136.5,213.0 L140.5,205.5 L145.0,211.0 L149.0,216.5 L151.0,219.3 L154.5,219.0 L158.0,213.5 L161.0,214.0 L165.0,209.5 L168.5,209.0 L172.0,211.5 L176.0,215.3 L180.0,210.5 L183.5,208.0 L186.5,208.5 L190.0,216.8 L193.0,211.0 L197.0,206.5 L200.0,200.0 L203.0,196.0 L207.0,195.0 L211.5,200.5 L215.0,198.0 L220.0,190.0 L224.0,186.5 L228.0,184.0 L232.0,183.5 L236.5,194.0 L239.5,190.0 L243.0,196.0 L246.5,203.5 L250.5,202.5 L253.5,204.5 L257.5,214.0 L261.0,213.0 L264.0,201.0 L267.5,200.5 L271.0,191.5 L275.0,194.5 L279.0,197.0 L282.0,196.5 L285.0,184.0 L289.0,170.5 L292.5,175.0 L296.0,173.0 L299.5,183.0 L303.0,189.0 L306.5,194.5 L310.0,191.5 L314.0,188.5 L317.5,189.5 L320.5,196.0 L324.0,198.5 L328.0,194.5 L331.5,197.0 L335.0,193.0 L339.0,192.0 L342.0,184.5 L346.0,186.5 L349.5,184.5 L352.5,181.5 L356.5,180.5 L359.5,173.0 L363.5,176.5 L369.0,176.5 L374.0,177.5 L377.5,174.0 L381.0,174.0 L384.5,175.5 L388.5,174.0 L392.0,181.5 L395.5,178.0 L398.5,182.5 L402.0,187.5 L406.0,190.0 L409.5,195.0 L413.0,202.5 L416.5,205.0 L420.0,211.0 L424.0,215.5 L427.0,224.0 L430.5,219.5 L435.0,219.0 L441.0,223.0 L445.0,229.0 L449.0,223.0 L452.0,218.6 L454.5,227.0 L459.0,233.0 L463.0,241.5 L467.0,239.5 L472.0,237.0 L477.0,233.0 L480.0,232.0 L483.0,229.0 L487.0,225.5 L492.0,225.5 L498.0,225.0 L502.0,232.5 L505.0,229.5 L509.0,237.5 L513.0,235.0 L516.0,233.0 L519.0,226.0 L523.0,222.5 L526.5,227.0 L530.5,235.5 L534.0,227.0 L538.5,222.0 L542.0,223.5 L545.0,226.5 L549.0,226.0 L553.0,221.5 L558.0,218.0 L560.5,215.0 L564.0,212.0 L568.0,211.0 L573.0,207.0 L576.5,209.5 L580.0,210.5 L584.0,217.6 L587.0,213.0 L590.0,206.0 L594.0,201.0 L597.0,200.5 L601.0,197.0 L605.0,202.0 L608.5,200.5 L612.0,204.0 L616.0,208.0 L619.5,210.0 L623.0,214.0 L626.5,214.5 L629.5,229.0 L634.0,226.5 L637.5,224.5 L643.5,219.5 L648.0,221.0 L651.0,222.5 L655.0,227.0 L659.0,226.0 L660.5,212.5 L664.0,212.0 L668.0,206.5 L672.0,206.5 L675.5,206.0 L679.5,203.5 L685.0,203.5 L689.0,200.5 L694.0,197.0 L697.0,180.0 L700.0,162.5 L703.0,161.5 L707.0,155.0 L711.0,159.0 L714.5,153.5 L718.5,150.5 L721.0,131.0 L725.0,127.0 L729.0,132.5 L732.0,122.0 L736.0,114.0 L740.0,119.5 L743.5,126.5 L747.0,131.5 L750.5,130.0 L754.0,147.0 L757.5,156.0 L760.5,154.0 L767.0,233.0 L771.0,237.5 L775.0,236.0 L778.5,255.5 L782.0,256.5 L785.5,277.5 L789.5,270.0 L793.0,256.0 L796.0,261.5 L799.5,250.0 L802.5,228.0 L806.5,225.5 L810.5,239.5 L814.0,221.5 L817.5,227.5 L821.0,239.0 L824.5,246.5 L828.5,241.0 L831.0,225.0 L833.0,215.0 L835.5,206.5 L839.0,211.5 L842.0,213.5 L846.5,213.0 L848.5,220.0 L850.0,224.5 L852.5,219.5 L856.0,231.0 L860.0,228.5 L864.0,238.0 L866.5,243.5 L870.0,269.0 L874.0,272.5 L877.5,276.5 L881.0,276.0 L884.5,296.0 L888.5,298.0 L892.0,300.0 L895.0,323.0 L898.5,338.0 L902.0,326.0 L906.0,326.5 L909.5,330.5 L913.0,316.0 L916.5,323.0 L920.0,325.5 L924.0,330.5 L927.5,329.0 L931.0,334.0 L934.0,345.0 L938.0,344.5 L941.5,344.5 L945.0,343.0 L949.0,350.0 L952.0,388.0 L956.0,366.0 L959.5,352.0 L963.0,343.0 L966.0,348.5 L970.0,349.0 L973.5,376.0 L977.0,365.5 L980.5,355.0 L984.0,363.0 L987.5,377.0 L991.0,369.5 L994.5,388.0 L998.0,466.5 L1002.5,464.0 L1008.5,419.5 L1012.5,416.0 L1016.0,430.0 L1019.5,453.0 L1022.5,446.5 L1026.0,459.5 L1030.0,449.0 L1033.0,460.0 L1036.0,476.0 L1040.5,519.5 L1044.5,500.0 L1048.0,493.5 L1051.5,516.0 L1055.0,516.5 L1057.4,551.5 L1062.0,562.0 L1066.0,573.0 L1068.6,545.0" fill="none" stroke="#ea3943" stroke-width="3.8" stroke-linejoin="round"/></g>
</g>
<rect x="48" y="18" width="1022" height="2" fill="#3d414e"/>
<rect x="46" y="18" width="2" height="720" fill="#272b37"/>
<rect x="1070" y="18" width="2" height="720" fill="#272b37"/>
<rect x="48" y="736" width="1022" height="2" fill="#272b37"/>
</svg>
<svg class="ov" width="1200" height="800" viewBox="0 0 1200 800">
<g fill="#9aa1b0" font-size="22"><text transform="translate(1083,114) scale(1,1.04)">106.00K</text><text transform="translate(1083,202) scale(1,1.04)">105.00K</text><text transform="translate(1083,288) scale(1,1.04)">104.00K</text><text transform="translate(1083,376) scale(1,1.04)">103.00K</text><text transform="translate(1083,462) scale(1,1.04)">102.00K</text><text transform="translate(1083,550) scale(1,1.04)">101.00K</text><text transform="translate(1083,636) scale(1,1.04)">100.00K</text><text transform="translate(49.3,776) scale(1,1.04)" text-anchor="middle">5 Jun</text><text transform="translate(217.9,776) scale(1,1.04)" text-anchor="middle">4:00 AM</text><text transform="translate(388.1,776) scale(1,1.04)" text-anchor="middle">8:00 AM</text><text transform="translate(558.3,776) scale(1,1.04)" text-anchor="middle">12:00 PM</text><text transform="translate(728.5,776) scale(1,1.04)" text-anchor="middle">4:00 PM</text><text transform="translate(898.7,776) scale(1,1.04)" text-anchor="middle">8:00 PM</text><text transform="translate(1069,776) scale(1,1.04)" text-anchor="middle">6 Jun</text></g>
<g fill="#050608" font-size="22"><text transform="translate(49,797) scale(1,1.04)">110</text><text transform="translate(836,797) scale(1,1.04)" textLength="223" lengthAdjust="spacingAndGlyphs">The U.S. establishes...</text></g>
</svg>
</body></html>
